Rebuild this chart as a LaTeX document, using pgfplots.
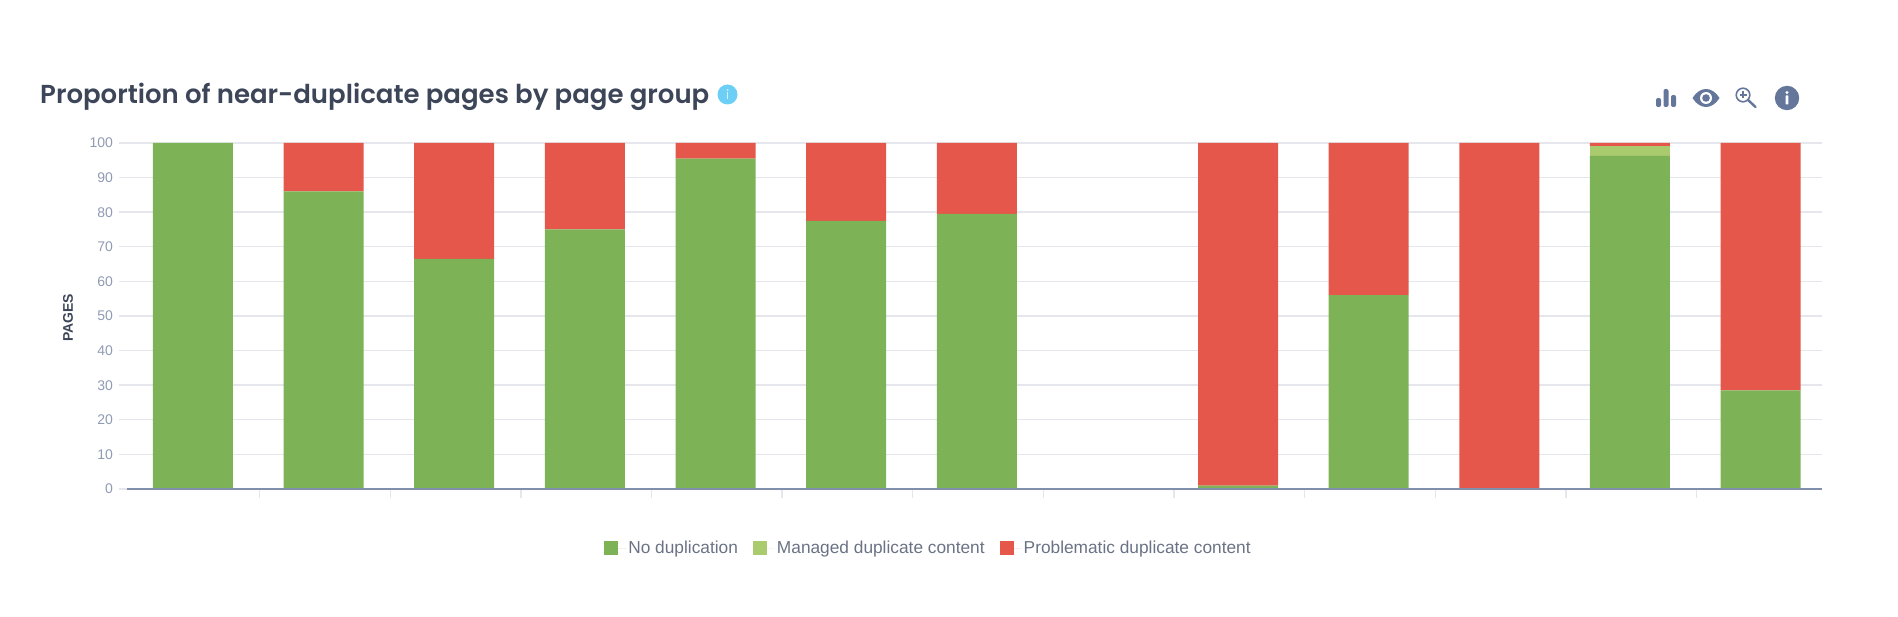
\documentclass[border=0pt]{standalone}
\usepackage{fontspec}
\setmainfont{Liberation Sans}
\newfontfamily\poppins{Poppins SemiBold}
\usepackage{pgfplots}
\pgfplotsset{compat=1.18}
\definecolor{cgreen}{HTML}{7DB257}
\definecolor{clight}{HTML}{A9CA6D}
\definecolor{cred}{HTML}{E4574A}
\definecolor{gridc}{HTML}{E5E7ED}
\definecolor{axisc}{HTML}{7F8FAC}
\definecolor{tickc}{HTML}{8F9BB3}
\definecolor{titlec}{HTML}{3D4658}
\definecolor{legc}{HTML}{6A7284}
\definecolor{iconc}{HTML}{64769A}
\definecolor{infoc}{HTML}{6DCFF6}
\pgfplotstableread{
x green light red
0 100 0 0
1 86 0 14
2 66.5 0 33.5
3 75 0 25
4 95.5 0 4.5
5 77.5 0 22.5
6 79.5 0 20.5
7 0 0 0
8 1 0 99
9 56 0 44
10 0 0 100
11 96.3 2.8 0.9
12 28.5 0 71.5
}\datatable
\begin{document}
\begin{tikzpicture}[x=1pt,y=1pt]
\path[use as bounding box] (0,0) rectangle (1898,616);
\node[anchor=base west,inner sep=0pt,text=titlec,font=\poppins\fontsize{26}{28}\selectfont] at (40,512.5) {Proportion of near-duplicate pages by page group};
\fill[infoc] (727.5,521.5) circle (10);
\fill[white!70!infoc] (727.5,526) circle (1);
\fill[white!70!infoc] (726.8,516.5) rectangle (728.2,523.5);
\begin{axis}[
  at={(127pt,127pt)},anchor=south west,
  scale only axis,width=1695pt,height=346pt,
  xmin=-0.505,xmax=12.47,ymin=0,ymax=100,
  ybar stacked,bar width=80pt,
  axis x line*=bottom,axis y line*=left,
  axis line style={draw=none},
  ytick={0,10,...,100},
  xtick={0.51,1.51,...,11.51},xticklabels={},
  ymajorgrids,grid style={gridc,line width=1.4pt},
  tick align=outside,major tick length=8.5pt,
  tick style={gridc,line width=1.4pt},
  /pgf/number format/assume math mode=true,
  yticklabel style={font=\fontsize{14}{14}\selectfont,text=tickc,xshift=-2pt},
  ylabel={\textbf{PAGES}},
  every axis y label/.style={at={(axis description cs:0,0.5)},rotate=90,anchor=center,yshift=59pt,xshift=-2pt,font=\fontsize{14}{14}\selectfont,text=titlec},
  clip=false,
  legend columns=-1,
  legend style={draw=none,fill=none,at={(801.5pt,-59pt)},anchor=center,font=\fontsize{17.3}{20}\selectfont,text=legc,
    /tikz/every even column/.style={column sep=13pt},inner sep=0pt},
  legend image code/.code={\fill[#1] (0pt,-7pt) rectangle (14pt,7pt);\path (0pt,0pt) -- (22pt,0pt);},
]
\addplot[fill=cgreen,draw=none] table[x=x,y=green]{\datatable};
\addplot[fill=clight,draw=none] table[x=x,y=light]{\datatable};
\addplot[fill=cred,draw=none] table[x=x,y=red]{\datatable};
\legend{No duplication,Managed duplicate content,Problematic duplicate content}
\end{axis}
\draw[axisc,line width=1.4pt] (127,127) -- (1822,127);
% toolbar icons
\begin{scope}[iconc]
\fill[rounded corners=2pt] (1656,509) rectangle (1661,518);
\fill[rounded corners=2pt] (1663.5,509) rectangle (1668.5,527);
\fill[rounded corners=2pt] (1671,509) rectangle (1676,521);
\fill (1692.5,518) .. controls (1700,530) and (1712,530) .. (1719.5,518) .. controls (1712,506) and (1700,506) .. cycle;
\fill[white] (1706,518) circle (6);
\fill (1706,518) circle (3.8);
\draw[line width=1.6pt] (1743,521) circle (6.8);
\draw[line width=2.4pt,line cap=round] (1748,516) -- (1755.5,509);
\draw[line width=1.2pt] (1739.5,521) -- (1746.5,521) (1743,517.5) -- (1743,524.5);
\fill (1787,518) circle (12.2);
\fill[white] (1787,523.5) circle (1.6);
\fill[white,rounded corners=.5pt] (1785.6,511.5) rectangle (1788.4,520.5);
\end{scope}
\end{tikzpicture}
\end{document}
